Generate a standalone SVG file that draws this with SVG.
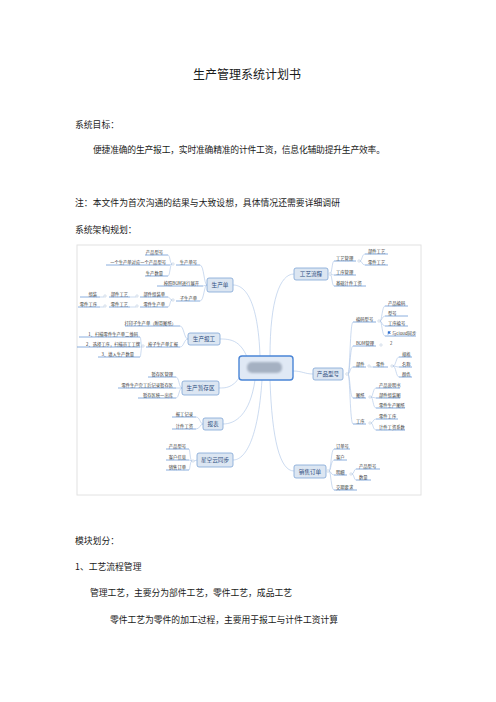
<svg xmlns="http://www.w3.org/2000/svg" width="496" height="702" viewBox="0 0 496 702">
<defs>
<style>
text{font-family:"Noto Sans CJK SC","Noto Sans",sans-serif}
.doc{font-size:8.8px;fill:#1a1a1a}
.title{font-size:12px;fill:#1a1a1a}
.lf{font-size:4.3px;fill:#333}
.lr{font-size:4.3px;fill:#333;text-anchor:end}
.mn{font-size:5.6px;fill:#2f4f7f;text-anchor:middle}
.ul{stroke:#6d9ad6;stroke-width:0.8}
.cn{stroke:#a9c3e6;stroke-width:0.6;fill:none}
.dot{fill:#fff;stroke:#9db3cf;stroke-width:0.4}
.box{fill:#dce6f2;stroke:#7fa4d6;stroke-width:0.8}
</style>
<filter id="bl" x="-30%" y="-50%" width="160%" height="200%"><feGaussianBlur stdDeviation="1.3"/></filter>
</defs>
<rect width="496" height="702" fill="#fff"/>

<g id="document-text">
<text class="title" x="247" y="79" text-anchor="middle">生产管理系统计划书</text>
<text class="doc" x="75" y="128">系统目标：</text>
<text class="doc" x="93" y="153" textLength="292">便捷准确的生产报工，实时准确精准的计件工资，信息化辅助提升生产效率。</text>
<text class="doc" x="75" y="206" textLength="265">注：本文件为首次沟通的结果与大致设想，具体情况还需要详细调研</text>
<text class="doc" x="75" y="233">系统架构规划：</text>
<text class="doc" x="75" y="544">模块划分：</text>
<text class="doc" x="75" y="570">1、工艺流程管理</text>
<text class="doc" x="90" y="596" textLength="202">管理工艺，主要分为部件工艺，零件工艺，成品工艺</text>
<text class="doc" x="110" y="623" textLength="228">零件工艺为零件的加工过程，主要用于报工与计件工资计算</text>
</g>

<rect id="map-frame" x="77" y="245" width="344" height="250" fill="#fff" stroke="#e2e2e2" stroke-width="1"/>

<g id="connectors">
<!-- center to main -->
<path class="cn" d="M270 356 C270 300 280 274 294 274"/>
<path class="cn" d="M293 371 C302 371 305 374 313 374"/>
<path class="cn" d="M270 380 C272 440 280 471 294 471"/>
<path class="cn" d="M260 356 C258 300 245 285 233 285"/>
<path class="cn" d="M247 357 C240 340 230 339 220 339"/>
<path class="cn" d="M240 377 C232 388 226 388 219 388"/>
<path class="cn" d="M255 380 C250 415 235 424 223 424"/>
<path class="cn" d="M262 380 C258 440 245 460 233 460"/>
<!-- 工艺流程 -->
<path class="cn" d="M330 274 C332 274 332 261 334 261 M330 274 C332 274 332 275 334 275 M330 274 C332 274 332 286 334 286"/>
<path class="cn" d="M360 261 C362 261 362 254 365 254 M360 261 C362 261 362 265 365 265"/>
<!-- 产品型号 -->
<path class="cn" d="M348 374 C350 374 350 322 353 322 M348 374 C350 374 350 346 353 346 M348 374 C350 374 350 367 353 367 M348 374 C350 374 350 398 353 398 M348 374 C350 374 350 424 353 424"/>
<path class="cn" d="M380 321 C382 321 382 306 385 306 M380 321 C382 321 382 316 385 316 M380 321 C382 321 382 326 385 326 M380 321 C382 321 382 336 385 336"/>
<path class="cn" d="M370 367 L373 367"/>
<path class="cn" d="M393 366 C396 366 396 357 399 357 M393 366 C396 366 396 367 399 367 M393 366 C396 366 396 377 399 377"/>
<path class="cn" d="M371 397 C373 397 373 388 376 388 M371 397 L376 398 M371 397 C373 397 373 408 376 408"/>
<path class="cn" d="M371 423 C373 423 373 419 376 419 M371 423 C373 423 373 430 376 430"/>
<!-- 销售订单 -->
<path class="cn" d="M329 471 C331 471 331 449 334 449 M329 471 C331 471 331 460 334 460 M329 471 C331 471 331 475 334 475 M329 471 C331 471 331 490 334 490"/>
<path class="cn" d="M352 474 C354 474 354 469 356 469 M352 474 C354 474 354 480 356 480"/>
<!-- 生产单 -->
<path class="cn" d="M207 285 C204 285 204 265 200 265 M207 285 L203 286 M207 285 C204 285 204 301 200 301"/>
<path class="cn" d="M172 264 C170 264 170 255 168 255 M172 264 L170 265 M172 264 C170 264 170 276 168 276"/>
<path class="cn" d="M172 300 C170 300 170 297 168 297 M172 300 C170 300 170 307 168 307"/>
<path class="cn" d="M136 297 L130 297 M104 297 L100 297 M136 307 L130 307 M104 307 L100 307"/>
<!-- 生产报工 -->
<path class="cn" d="M188 339 C184 339 184 326 180 326 M188 339 C184 339 184 347 180 347"/>
<path class="cn" d="M142 347 C141 347 141 337 140 337 M142 347 L140 347 M142 347 C141 347 141 357 140 357"/>
<!-- 生产暂存区 -->
<path class="cn" d="M182 388 C179 388 179 377 176 377 M182 388 L176 388 M182 388 C179 388 179 398 176 398"/>
<!-- 报表 -->
<path class="cn" d="M203 424 C200 424 200 417 196 417 M203 424 C200 424 200 429 196 429"/>
<!-- 星空云同步 -->
<path class="cn" d="M197 460 L194 461 M192 461 C190 461 190 449 189 449 M192 461 L189 460 M192 461 C190 461 190 470 189 470"/>
</g>

<g id="center">
<rect x="239" y="356" width="54" height="24" rx="3" fill="#e0e9f5" stroke="#4a85d6" stroke-width="1.4"/>
<rect x="247" y="362" width="35" height="11" rx="5" fill="#a5b1c2" filter="url(#bl)"/>
</g>

<g id="gongyiliucheng">
<rect class="box" x="294" y="268" width="34" height="12" rx="2"/>
<text class="mn" x="311" y="276">工艺流程</text>
<circle class="dot" cx="330" cy="274" r="1.3"/>
<text class="lf" x="336" y="259.5">工艺管理</text><line class="ul" x1="334" y1="261" x2="356" y2="261"/>
<circle class="dot" cx="359" cy="261" r="1.2"/>
<text class="lf" x="368" y="252.5">部件工艺</text><line class="ul" x1="365" y1="254" x2="388" y2="254"/>
<text class="lf" x="368" y="263.5">零件工艺</text><line class="ul" x1="365" y1="265" x2="388" y2="265"/>
<text class="lf" x="336" y="273.5">工序管理</text><line class="ul" x1="334" y1="275" x2="356" y2="275"/>
<text class="lf" x="336" y="284.5">基础计件工资</text><line class="ul" x1="334" y1="286" x2="366" y2="286"/>
</g>

<g id="chanpinxinghao">
<rect class="box" x="313" y="368" width="30" height="12" rx="2"/>
<text class="mn" x="328" y="376">产品型号</text>
<circle class="dot" cx="347" cy="374" r="1.3"/>
<text class="lf" x="356" y="320.5">编码型号</text><line class="ul" x1="353" y1="322" x2="376" y2="322"/>
<circle class="dot" cx="379" cy="321" r="1.2"/>
<text class="lf" x="388" y="304.5">产品编码</text><line class="ul" x1="385" y1="306" x2="408" y2="306"/>
<text class="lf" x="388" y="314.5">型号</text><line class="ul" x1="385" y1="316" x2="408" y2="316"/>
<text class="lf" x="388" y="324.5">工序编号</text><line class="ul" x1="385" y1="326" x2="408" y2="326"/>
<path d="M388 331.5 V335 M388 331.5 H390.5 L389.8 332.5 L390.5 333.5 H388" fill="#2f6fd0" stroke="#2f6fd0" stroke-width="0.4"/>
<text class="lf" x="392" y="334.5">与cloud同步</text><line class="ul" x1="385" y1="336" x2="416" y2="336"/>
<text class="lf" x="356" y="344.5">BOM管理</text><line class="ul" x1="353" y1="346" x2="376" y2="346"/>
<circle class="dot" cx="381" cy="345" r="1.2"/>
<text class="lf" x="390" y="344.5">2</text>
<text class="lf" x="356" y="365.5">部件</text><line class="ul" x1="353" y1="367" x2="366" y2="367"/>
<circle class="dot" cx="369" cy="366" r="1.2"/>
<text class="lf" x="376" y="365.5">零件</text><line class="ul" x1="373" y1="367" x2="388" y2="367"/>
<circle class="dot" cx="392" cy="366" r="1.2"/>
<text class="lf" x="402" y="355.5">规格</text><line class="ul" x1="399" y1="357" x2="412" y2="357"/>
<text class="lf" x="402" y="365.5">名称</text><line class="ul" x1="399" y1="367" x2="412" y2="367"/>
<text class="lf" x="402" y="375.5">颜色</text><line class="ul" x1="399" y1="377" x2="412" y2="377"/>
<text class="lf" x="356" y="396.5">图纸</text><line class="ul" x1="353" y1="398" x2="366" y2="398"/>
<circle class="dot" cx="370" cy="397" r="1.2"/>
<text class="lf" x="379" y="386.5">产品说明书</text><line class="ul" x1="376" y1="388" x2="400" y2="388"/>
<text class="lf" x="379" y="396.5">部件组装图</text><line class="ul" x1="376" y1="398" x2="400" y2="398"/>
<text class="lf" x="379" y="406.5">零件生产图纸</text><line class="ul" x1="376" y1="408" x2="405" y2="408"/>
<text class="lf" x="356" y="422.5">工序</text><line class="ul" x1="353" y1="424" x2="366" y2="424"/>
<circle class="dot" cx="370" cy="423" r="1.2"/>
<text class="lf" x="379" y="417.5">零件工序</text><line class="ul" x1="376" y1="419" x2="398" y2="419"/>
<text class="lf" x="379" y="428.5">计件工资系数</text><line class="ul" x1="376" y1="430" x2="405" y2="430"/>
</g>

<g id="xiaoshoudingdan">
<rect class="box" x="294" y="465" width="32" height="13" rx="2"/>
<text class="mn" x="310" y="473.5">销售订单</text>
<circle class="dot" cx="328" cy="471" r="1.3"/>
<text class="lf" x="336" y="447.5">订单号</text><line class="ul" x1="334" y1="449" x2="350" y2="449"/>
<text class="lf" x="336" y="458.5">客户</text><line class="ul" x1="334" y1="460" x2="347" y2="460"/>
<text class="lf" x="336" y="473.5">明细</text><line class="ul" x1="334" y1="475" x2="347" y2="475"/>
<circle class="dot" cx="351" cy="474" r="1.2"/>
<text class="lf" x="359" y="467.5">产品型号</text><line class="ul" x1="356" y1="469" x2="380" y2="469"/>
<text class="lf" x="359" y="478.5">数量</text><line class="ul" x1="356" y1="480" x2="371" y2="480"/>
<text class="lf" x="336" y="488.5">交期要求</text><line class="ul" x1="334" y1="490" x2="357" y2="490"/>
</g>

<g id="shengchandan">
<rect class="box" x="207" y="278" width="26" height="14" rx="2"/>
<text class="mn" x="220" y="287">生产单</text>
<text class="lr" x="197" y="263.5">生产单号</text><line class="ul" x1="176" y1="265" x2="200" y2="265"/>
<circle class="dot" cx="173" cy="264" r="1.2"/>
<text class="lr" x="163" y="253.5">产品型号</text><line class="ul" x1="145" y1="255" x2="168" y2="255"/>
<text class="lr" x="166" y="263.5">一个生产单对应一个产品型号</text><line class="ul" x1="106" y1="265" x2="170" y2="265"/>
<text class="lr" x="163" y="274.5">生产数量</text><line class="ul" x1="145" y1="276" x2="168" y2="276"/>
<text class="lr" x="199" y="284.5">按照BOM进行展开</text><line class="ul" x1="157" y1="286" x2="203" y2="286"/>
<text class="lr" x="197" y="299.5">子生产单</text><line class="ul" x1="176" y1="301" x2="200" y2="301"/>
<circle class="dot" cx="173" cy="300" r="1.2"/>
<text class="lr" x="165" y="295.5">部件组装单</text><line class="ul" x1="140" y1="297" x2="168" y2="297"/>
<circle class="dot" cx="137" cy="296" r="1.2"/>
<text class="lr" x="128" y="295.5">部件工艺</text><line class="ul" x1="109" y1="297" x2="130" y2="297"/>
<circle class="dot" cx="105" cy="296" r="1.2"/>
<text class="lr" x="97" y="295.5">组装</text><line class="ul" x1="80" y1="297" x2="100" y2="297"/>
<text class="lr" x="165" y="305.5">零件生产单</text><line class="ul" x1="140" y1="307" x2="168" y2="307"/>
<circle class="dot" cx="137" cy="306" r="1.2"/>
<text class="lr" x="128" y="305.5">零件工艺</text><line class="ul" x1="109" y1="307" x2="130" y2="307"/>
<circle class="dot" cx="105" cy="306" r="1.2"/>
<text class="lr" x="97" y="305.5">零件工序</text><line class="ul" x1="78" y1="307" x2="100" y2="307"/>
</g>

<g id="shengchanbaogong">
<rect class="box" x="188" y="333" width="32" height="12" rx="2"/>
<text class="mn" x="204" y="341">生产报工</text>
<text class="lr" x="176" y="324.5">打印子生产单（附带图纸）</text><line class="ul" x1="125" y1="326" x2="180" y2="326"/>
<text class="lr" x="178" y="345.5">按子生产单汇报</text><line class="ul" x1="146" y1="347" x2="180" y2="347"/>
<circle class="dot" cx="143" cy="346" r="1.2"/>
<text class="lr" x="138" y="335.5">1、扫描零件生产单二维码</text><line class="ul" x1="79" y1="337" x2="140" y2="337"/>
<text class="lr" x="140" y="345.5">2、选择工序，扫描员工工牌</text><line class="ul" x1="77" y1="347" x2="140" y2="347"/>
<text class="lr" x="134" y="355.5">3、填入生产数量</text><line class="ul" x1="98" y1="357" x2="140" y2="357"/>
</g>

<g id="shengchanzancunqu">
<rect class="box" x="182" y="381" width="37" height="14" rx="2"/>
<text class="mn" x="200.5" y="390">生产暂存区</text>
<text class="lr" x="173" y="375.5">暂存区管理</text><line class="ul" x1="148" y1="377" x2="176" y2="377"/>
<text class="lr" x="173" y="386.5">零件生产完工后记录暂存区</text><line class="ul" x1="118" y1="388" x2="176" y2="388"/>
<text class="lr" x="173" y="396.5">暂存区统一出库</text><line class="ul" x1="138" y1="398" x2="176" y2="398"/>
</g>

<g id="baobiao">
<rect class="box" x="203" y="418" width="20" height="12" rx="2"/>
<text class="mn" x="213" y="426">报表</text>
<text class="lr" x="193" y="415.5">报工记录</text><line class="ul" x1="172" y1="417" x2="196" y2="417"/>
<text class="lr" x="193" y="427.5">计件工资</text><line class="ul" x1="172" y1="429" x2="196" y2="429"/>
</g>

<g id="xingkongyuntongbu">
<rect class="box" x="197" y="453" width="36" height="14" rx="2"/>
<text class="mn" x="215" y="462">星空云同步</text>
<circle class="dot" cx="193" cy="461" r="1.2"/>
<text class="lr" x="186" y="447.5">产品型号</text><line class="ul" x1="166" y1="449" x2="189" y2="449"/>
<text class="lr" x="186" y="458.5">客户信息</text><line class="ul" x1="166" y1="460" x2="189" y2="460"/>
<text class="lr" x="186" y="468.5">销售订单</text><line class="ul" x1="166" y1="470" x2="189" y2="470"/>
</g>
</svg>
